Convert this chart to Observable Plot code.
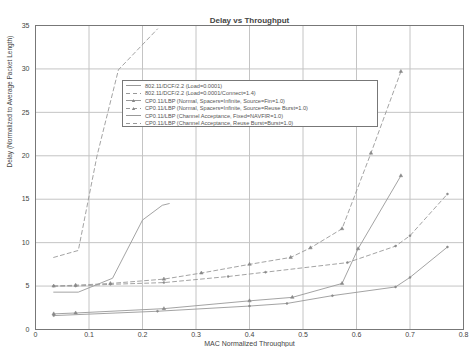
<!DOCTYPE html>
<html><head><meta charset="utf-8">
<script src="https://cdn.jsdelivr.net/npm/d3@7"></script>
<script src="https://cdn.jsdelivr.net/npm/@observablehq/plot@0.6"></script>
<style>
body{margin:0;background:#fff;}
#wrap{position:relative;width:471px;height:347px;font-family:"Liberation Sans",Arial,sans-serif;}
#legend{position:absolute;left:122px;top:80px;width:256px;height:47px;border:1px solid #777;background:#fff;box-sizing:border-box;padding-top:1px;}
.row{height:7.5px;display:flex;align-items:center;font-size:5.6px;color:#555;white-space:nowrap;}
.row svg{flex:none;margin:0 4px 0 3px;}
</style></head>
<body>
<div id="wrap"><div id="chart"></div><div id="legend"></div></div>
<script>
const title = "Delay vs Throughput";
const xLabel = "MAC Normalized Throughput";
const yLabel = "Delay (Normalized to Average Packet Length)";
const xTicks = [0, 0.1, 0.2, 0.3, 0.4, 0.5, 0.6, 0.7, 0.8];
const yTicks = [0, 5, 10, 15, 20, 25, 30, 35];

const names = [
  "802.11/DCF/2.2 (Load=0.0001)",
  "802.11/DCF/2.2 (Load=0.0001/Connect=1.4)",
  "CP0.11/LBP (Normal, Spacers=Infinite, Source=Fin=1.0)",
  "CP0.11/LBP (Normal, Spacers=Infinite, Source=Reuse Burst=1.0)",
  "CP0.11/LBP (Channel Acceptance, Fixed=NAVFIR=1.0)",
  "CP0.11/LBP (Channel Acceptance, Reuse Burst=Burst=1.0)"
];

// series 1: solid, steep near 0.2
const s1x = [0.034, 0.08, 0.144, 0.2, 0.237, 0.25];
const s1y = [4.3, 4.3, 5.9, 12.6, 14.3, 14.5];
// series 2: dashed, steepest
const s2x = [0.034, 0.08, 0.115, 0.155, 0.228];
const s2y = [8.3, 9.1, 20.0, 29.9, 34.6];
// series 3: solid with markers
const s3x = [0.034, 0.075, 0.24, 0.4, 0.48, 0.573, 0.603, 0.683];
const s3y = [1.8, 1.9, 2.4, 3.3, 3.7, 5.3, 9.3, 17.7];
// series 4: dashed with markers
const s4x = [0.034, 0.075, 0.14, 0.24, 0.31, 0.4, 0.477, 0.514, 0.573, 0.627, 0.683];
const s4y = [5.0, 5.1, 5.3, 5.8, 6.5, 7.5, 8.3, 9.4, 11.6, 20.3, 29.7];
// series 5: solid
const s5x = [0.034, 0.228, 0.4, 0.47, 0.555, 0.673, 0.70, 0.77];
const s5y = [1.6, 2.1, 2.7, 3.0, 3.9, 4.9, 6.0, 9.5];
// series 6: dashed
const s6x = [0.034, 0.075, 0.14, 0.24, 0.36, 0.43, 0.583, 0.673, 0.70, 0.77];
const s6y = [5.0, 5.0, 5.2, 5.4, 6.1, 6.6, 7.7, 9.6, 10.8, 15.6];

const xs = [s1x, s2x, s3x, s4x, s5x, s6x];
const ys = [s1y, s2y, s3y, s4y, s5y, s6y];
const dashes = [null, "4,3", null, "4,3", null, "4,3"];
const markers = [null, null, "triangle", "triangle", "circle", "circle"];
const lineColor = "#999";

const data = xs.map((xa, i) => xa.map((x, j) => ({x, y: ys[i][j], s: i})));

const marks = [
  Plot.gridX(xTicks, {stroke: "#c4c4c4", strokeOpacity: 1}),
  Plot.gridY(yTicks, {stroke: "#c4c4c4", strokeOpacity: 1}),
  Plot.frame({stroke: "#777"}),
  Plot.axisX({ticks: xTicks, tickSize: 0, tickPadding: 3, tickFormat: d => d === 0 ? "0" : d.toFixed(1), label: null}),
  Plot.axisY({ticks: yTicks, tickSize: 0, tickPadding: 6, label: null}),
];
data.forEach((d, i) => {
  marks.push(Plot.line(d, {x: "x", y: "y", stroke: lineColor, strokeWidth: 0.9, strokeDasharray: dashes[i] || undefined, clip: true}));
  if (markers[i]) marks.push(Plot.dot(d, {x: "x", y: "y", symbol: markers[i], r: markers[i] === "circle" ? 1 : 1.3, fill: "#888", stroke: "#888", strokeWidth: 0.5}));
});
marks.push(Plot.text([title], {frameAnchor: "top", dy: -8, fontSize: 8, fill: "#444", fontWeight: "bold"}));
marks.push(Plot.text([xLabel], {frameAnchor: "bottom", lineAnchor: "bottom", dy: 16.5, fontSize: 7, fill: "#444"}));
marks.push(Plot.text([yLabel], {frameAnchor: "left", dx: -26, dy: -10, rotate: -90, fontSize: 6.5, fill: "#444"}));

const chart = Plot.plot({
  width: 471, height: 347,
  marginLeft: 35, marginRight: 8, marginTop: 25, marginBottom: 18,
  x: {domain: [0, 0.8]},
  y: {domain: [0, 35]},
  style: {fontFamily: "Liberation Sans, Arial, sans-serif", fontSize: "7px", color: "#444", background: "#fff"},
  marks
});
document.getElementById("chart").appendChild(chart);

const leg = document.getElementById("legend");
names.forEach((n, i) => {
  const row = document.createElement("div");
  row.className = "row";
  const mk = markers[i] === "triangle" ? `<path d="M7.5,2 L9.2,5 L5.8,5 Z" fill="#888"/>` : "";
  row.innerHTML = `<svg width="15" height="7"><line x1="0" x2="15" y1="3.5" y2="3.5" stroke="${lineColor}" stroke-width="1" ${dashes[i] ? `stroke-dasharray="${dashes[i]}"` : ""}/>${mk}</svg><span>${n}</span>`;
  leg.appendChild(row);
});
</script>
</body></html>
